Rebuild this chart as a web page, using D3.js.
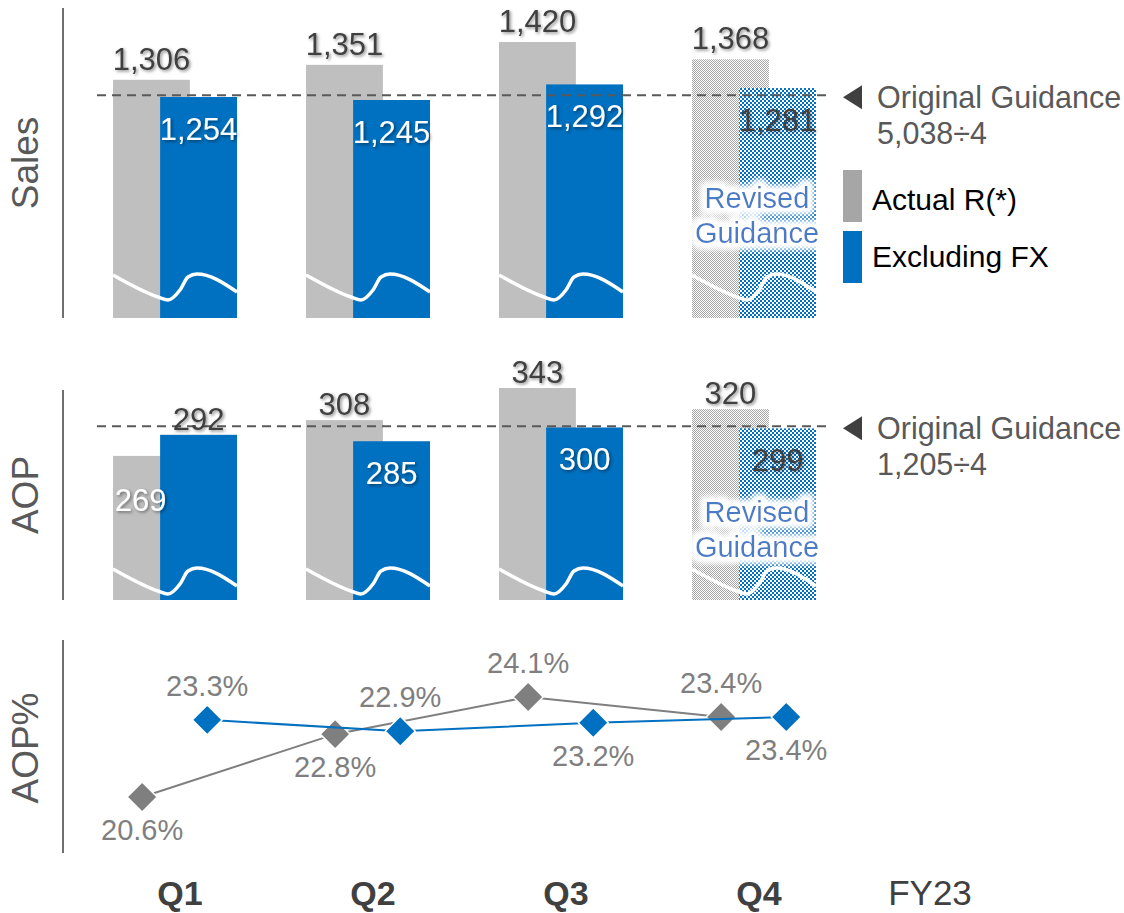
<!DOCTYPE html>
<html><head><meta charset="utf-8">
<script src="https://cdn.jsdelivr.net/npm/d3@7"></script>
<style>
body{margin:0;background:#fff}
svg{display:block;font-family:"Liberation Sans",Arial,sans-serif}
</style>
</head><body>
<svg id="c" width="1124" height="913"></svg>
<script>
// ---------- data ----------
const quarters = ["Q1","Q2","Q3","Q4"];
const axisLabels = ["Q1","Q2","Q3","Q4","FY23"];
const salesActual = [1306,1351,1420,1368];
const salesExFx   = [1254,1245,1292,1281];
const aopActual   = [269,308,343,320];
const aopExFx     = [292,285,300,299];
const pctActual   = [20.6,22.8,24.1,23.4];
const pctExFx     = [23.3,22.9,23.2,23.4];
const salesGuidanceTotal = 5038;
const aopGuidanceTotal = 1205;
const isRevisedGuidance = [false,false,false,true];
const aopActualLabelPos = ["inside","above","above","above"];
const aopExFxLabelPos   = ["above","inside","inside","inside"];
const pctActualLabelPos = ["below","below","above","above"];
const pctExFxLabelPos   = ["above","above","below","below"];
const panelTitles = ["Sales","AOP","AOP%"];
const legendLabels = ["Actual R(*)","Excluding FX"];

// ---------- setup ----------
const svg = d3.select("#c");
const GRAY = "#bfbfbf", BLUE = "#0070c0", DARK = "#404040", MID = "#595959", PCT = "#7f7f7f";
const fmt = d3.format(",");
const pctFmt = d => d.toFixed(1) + "%";

const defs = svg.append("defs");
const pg = defs.append("pattern").attr("id","patGray").attr("patternUnits","userSpaceOnUse").attr("width",2).attr("height",2);
pg.append("rect").attr("width",2).attr("height",2).attr("fill","#fff");
pg.append("rect").attr("width",1).attr("height",1).attr("fill","#a6a6a6");
pg.append("rect").attr("x",1).attr("y",1).attr("width",1).attr("height",1).attr("fill","#a6a6a6");
const pb = defs.append("pattern").attr("id","patBlue").attr("patternUnits","userSpaceOnUse").attr("width",4).attr("height",4);
pb.append("rect").attr("width",4).attr("height",4).attr("fill","#fff");
pb.append("rect").attr("width",2).attr("height",2).attr("fill",BLUE);
pb.append("rect").attr("x",2).attr("y",2).attr("width",2).attr("height",2).attr("fill",BLUE);
const sh = defs.append("filter").attr("id","shadow").attr("x","-20%").attr("y","-30%").attr("width","150%").attr("height","170%");
sh.append("feDropShadow").attr("dx",1.5).attr("dy",1.5).attr("stdDeviation",1.5).attr("flood-color","#000").attr("flood-opacity",0.45);
const gl = defs.append("filter").attr("id","glow").attr("x","-20%").attr("y","-40%").attr("width","140%").attr("height","180%");
gl.append("feMorphology").attr("in","SourceAlpha").attr("operator","dilate").attr("radius",5).attr("result","d");
gl.append("feGaussianBlur").attr("in","d").attr("stdDeviation",3).attr("result","b");
gl.append("feFlood").attr("flood-color","#fff").attr("result","w");
gl.append("feComposite").attr("in","w").attr("in2","b").attr("operator","in").attr("result","wg");
const gm = gl.append("feMerge");
gm.append("feMergeNode").attr("in","wg");
gm.append("feMergeNode").attr("in","wg");
gm.append("feMergeNode").attr("in","SourceGraphic");

const x = d3.scaleBand().domain(axisLabels).range([113,1009]).paddingInner(0.3575).paddingOuter(0);
const bw = x.bandwidth();
const barW = bw * 0.62;
const blueOff = bw - barW;

const ySales = d3.scaleLinear().domain([587,1420]).range([318,42]);
const yAop   = d3.scaleLinear().domain([112,343]).range([600,388]);
const yPct   = d3.scaleLinear().domain([20.6,24.1]).range([797,697]);

[[8,318],[390,600],[640,853]].forEach(([a,b]) => {
  svg.append("line").attr("x1",63).attr("x2",63).attr("y1",a).attr("y2",b)
    .attr("stroke",DARK).attr("stroke-width",1.5);
});
[[163],[495],[748]].forEach(([cy],i) => {
  svg.append("text").attr("transform",`translate(38,${cy}) rotate(-90)`)
    .attr("text-anchor","middle").attr("font-size",37).attr("fill",MID).text(panelTitles[i]);
});

const waveShape = [[0,0],[45,22],[55,25],[67,15],[75,2],[84,-1],[124,17]];
const waveLine = d3.line().curve(d3.curveMonotoneX);

function barPanel(opts){
  const {y, actual, exfx, bottom, waveY, guidance, guideText, actPos, exPos, aboveGap} = opts;
  const g = svg.append("g");
  quarters.forEach((q,i) => {
    const x0 = x(q);
    const rev = isRevisedGuidance[i];
    g.append("rect").attr("x",x0).attr("y",y(actual[i])).attr("width",barW).attr("height",bottom - y(actual[i]))
      .attr("fill", rev ? "url(#patGray)" : GRAY);
    g.append("rect").attr("x",x0+blueOff).attr("y",y(exfx[i])).attr("width",barW).attr("height",bottom - y(exfx[i]))
      .attr("fill", rev ? "url(#patBlue)" : BLUE);
    g.append("path").attr("d", waveLine(waveShape.map(([dx,dy]) => [x0 + dx*bw/124, waveY + dy])))
      .attr("fill","none").attr("stroke","#fff").attr("stroke-width",3.5);
  });
  const gy = y(guidance);
  g.append("line").attr("x1",97).attr("x2",831).attr("y1",gy).attr("y2",gy)
    .attr("stroke",MID).attr("stroke-width",2).attr("stroke-dasharray","9,6");
  quarters.forEach((q,i) => {
    const x0 = x(q);
    const rev = isRevisedGuidance[i];
    const ta = y(actual[i]);
    let ax, ay, af;
    if (actPos[i] === "inside") { ax = (x0 + x0 + blueOff)/2 + 4; ay = ta + 55; af = "#fff"; }
    else { ax = x0 + barW/2; ay = ta - aboveGap; af = DARK; }
    g.append("text").attr("x",ax).attr("y",ay).attr("text-anchor","middle").attr("font-size",31)
      .attr("fill",af).attr("filter","url(#shadow)").text(fmt(actual[i]));
    const tb = y(exfx[i]);
    let bx = x0 + blueOff + barW/2, by, bf;
    if (exPos[i] === "inside") { by = tb + 43; bf = rev ? DARK : "#fff"; }
    else { by = tb - aboveGap; bf = DARK; }
    g.append("text").attr("x",bx).attr("y",by).attr("text-anchor","middle").attr("font-size",31)
      .attr("fill",bf).attr("filter","url(#shadow)").text(fmt(exfx[i]));
    if (rev) {
      const cx = x0 + bw/2 + 3;
      const t = g.append("text").attr("text-anchor","middle").attr("font-size",29)
        .attr("fill","#4a7cc6").attr("filter","url(#glow)");
      t.append("tspan").attr("x",cx).attr("y",opts.revY).text("Revised");
      t.append("tspan").attr("x",cx).attr("y",opts.revY+35).text("Guidance");
    }
  });
  g.append("path").attr("d",`M843,${gy+2} L862,${gy-10} L862,${gy+14} Z`).attr("fill",DARK);
  g.append("text").attr("x",877).attr("y",gy+13).attr("font-size",30.5).attr("fill",MID).text("Original Guidance");
  g.append("text").attr("x",877).attr("y",gy+49).attr("font-size",30.5).attr("fill",MID).text(guideText);
}

barPanel({y:ySales, actual:salesActual, exfx:salesExFx, bottom:318, waveY:275,
  guidance:salesGuidanceTotal/4, guideText:"5,038÷4",
  actPos:["above","above","above","above"], exPos:["inside","inside","inside","inside"], aboveGap:10, revY:208});
barPanel({y:yAop, actual:aopActual, exfx:aopExFx, bottom:600, waveY:569,
  guidance:aopGuidanceTotal/4, guideText:"1,205÷4",
  actPos:aopActualLabelPos, exPos:aopExFxLabelPos, aboveGap:5, revY:522});

const lg = svg.append("g");
lg.append("rect").attr("x",843).attr("y",170).attr("width",19).attr("height",52).attr("fill","#a6a6a6");
lg.append("rect").attr("x",843).attr("y",231).attr("width",19).attr("height",52).attr("fill",BLUE);
lg.append("text").attr("x",872).attr("y",210).attr("font-size",30).attr("fill","#000").text(legendLabels[0]);
lg.append("text").attr("x",872).attr("y",267).attr("font-size",30).attr("fill","#000").text(legendLabels[1]);

const xGray = q => x(q) + bw*0.235;
const xBlue = q => x(q) + bw*0.76;
const diamond = "M0,-15 L15,0 L0,15 L-15,0 Z";
function series(vals, xf, color, pos){
  const g = svg.append("g");
  const pts = quarters.map((q,i) => [xf(q), yPct(vals[i])]);
  g.append("path").attr("d", d3.line()(pts)).attr("fill","none").attr("stroke",color).attr("stroke-width",2);
  g.selectAll("path.m").data(pts).join("path").attr("class","m")
    .attr("transform",d => `translate(${d[0]},${d[1]})`).attr("d",diamond)
    .attr("fill",color).attr("stroke","#fff").attr("stroke-width",1.5);
  pts.forEach((p,i) => {
    g.append("text").attr("x",p[0]).attr("y", pos[i]==="above" ? p[1]-24 : p[1]+43)
      .attr("text-anchor","middle").attr("font-size",29).attr("fill",PCT).text(pctFmt(vals[i]));
  });
}
series(pctActual, xGray, PCT, pctActualLabelPos);
series(pctExFx, xBlue, BLUE, pctExFxLabelPos);

axisLabels.forEach((c,i) => {
  const isQ = i < quarters.length;
  svg.append("text").attr("x", isQ ? x(c)+bw/2+5 : 930).attr("y",905)
    .attr("text-anchor","middle").attr("font-size", isQ ? 34 : 35)
    .attr("font-weight", isQ ? "bold" : "normal").attr("fill",DARK).text(c);
});
</script>
</body></html>
